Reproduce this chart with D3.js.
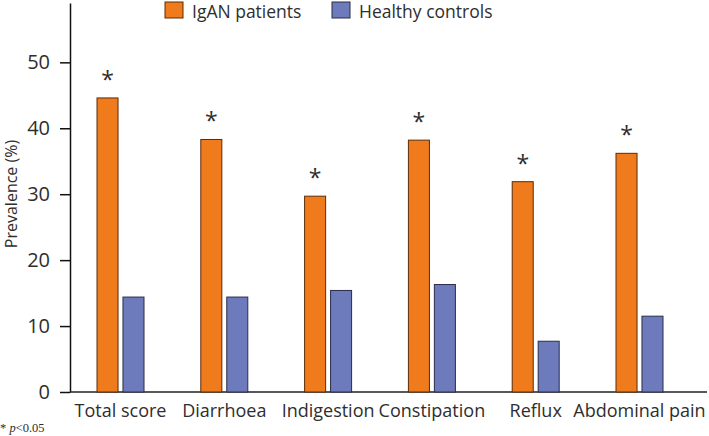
<!DOCTYPE html>
<meta charset="utf-8">
<script src="https://d3js.org/d3.v7.min.js"></script>
<style>
  body { margin: 0; background: #fff; }
  text { fill: #2e2e2e; }
</style>
<div id="chart"></div>
<script>

// data
var categories = ["Total score", "Diarrhoea", "Indigestion", "Constipation", "Reflux", "Abdominal pain"];
var series = ["IgAN patients", "Healthy controls"];
var iganValues = [44.6, 38.3, 29.7, 38.2, 31.9, 36.2];
var controlValues = [14.4, 14.4, 15.4, 16.3, 7.7, 11.5];
var significant = [true, true, true, true, true, true];
var yTicks = [0, 10, 20, 30, 40, 50];

var colors = {"IgAN patients": "#ef7b1c", "Healthy controls": "#6d7abb"};
var strokes = {"IgAN patients": "#5b2c08", "Healthy controls": "#2a2d48"};

var width = 709, height = 436;
var font = "'Open Sans', sans-serif";

var svg = d3.select("#chart").append("svg")
    .attr("width", width)
    .attr("height", height);

// scales
var y = d3.scaleLinear().domain([0, 59]).range([392, 3]);
var x = d3.scaleBand().domain(categories).range([68.6, 691.4]);
var xSub = d3.scaleBand().domain(series).range([-23.5, 23.5]).paddingInner(0.19);

// y axis
var yAxis = svg.append("g")
    .attr("transform", "translate(70,0)")
    .call(d3.axisLeft(y).tickValues(yTicks).tickSize(10).tickPadding(10).tickSizeOuter(0));
yAxis.selectAll("path, line").attr("stroke", "#111").attr("stroke-width", 1.5);
yAxis.selectAll("text").style("font-family", font).style("font-size", "20px").attr("fill", "#2e2e2e");

// x axis line
svg.append("line")
    .attr("x1", 70).attr("x2", 707)
    .attr("y1", y(0)).attr("y2", y(0))
    .attr("stroke", "#222").attr("stroke-width", 1.5);

// x labels
svg.append("g").selectAll("text")
    .data(categories)
    .join("text")
    .attr("x", d => x(d) + x.bandwidth() / 2)
    .attr("y", 417)
    .attr("text-anchor", "middle")
    .style("font-family", font)
    .style("font-size", "18px")
    .text(d => d);

// y axis title
svg.append("text")
    .attr("transform", "translate(17,194) rotate(-90)")
    .attr("text-anchor", "middle")
    .style("font-family", font)
    .style("font-size", "16px")
    .text("Prevalence (%)");

// bars
var rows = categories.map(function (c, i) {
    return {cat: c, vals: [
        {s: series[0], v: iganValues[i]},
        {s: series[1], v: controlValues[i]}
    ], sig: significant[i]};
});

var groups = svg.append("g").selectAll("g")
    .data(rows)
    .join("g")
    .attr("transform", d => `translate(${x(d.cat) + x.bandwidth() / 2},0)`);

groups.selectAll("rect")
    .data(d => d.vals)
    .join("rect")
    .attr("x", d => xSub(d.s))
    .attr("width", xSub.bandwidth())
    .attr("y", d => y(d.v))
    .attr("height", d => y(0) - y(d.v))
    .attr("fill", d => colors[d.s])
    .attr("stroke", d => strokes[d.s])
    .attr("stroke-width", 1);

// significance stars
groups.filter(d => d.sig).append("text")
    .attr("x", xSub(series[0]) + xSub.bandwidth() / 2)
    .attr("y", d => y(d.vals[0].v) - 10)
    .attr("text-anchor", "middle")
    .style("font-family", font)
    .style("font-size", "23px")
    .text("*");

// legend
var legend = svg.append("g").selectAll("g")
    .data(series)
    .join("g")
    .attr("transform", (d, i) => `translate(${[165, 332][i]},2)`);
legend.append("rect")
    .attr("width", 18).attr("height", 16)
    .attr("fill", d => colors[d])
    .attr("stroke", d => strokes[d]);
legend.append("text")
    .attr("x", 27).attr("y", 16)
    .style("font-family", font)
    .style("font-size", "17.5px")
    .text(d => d);

// footnote
var foot = svg.append("text")
    .attr("x", 0).attr("y", 432)
    .style("font-family", "'Liberation Serif', serif")
    .style("font-size", "12.5px");
foot.append("tspan").text("* ");
foot.append("tspan").style("font-style", "italic").text("p");
foot.append("tspan").text("<0.05");

</script>
